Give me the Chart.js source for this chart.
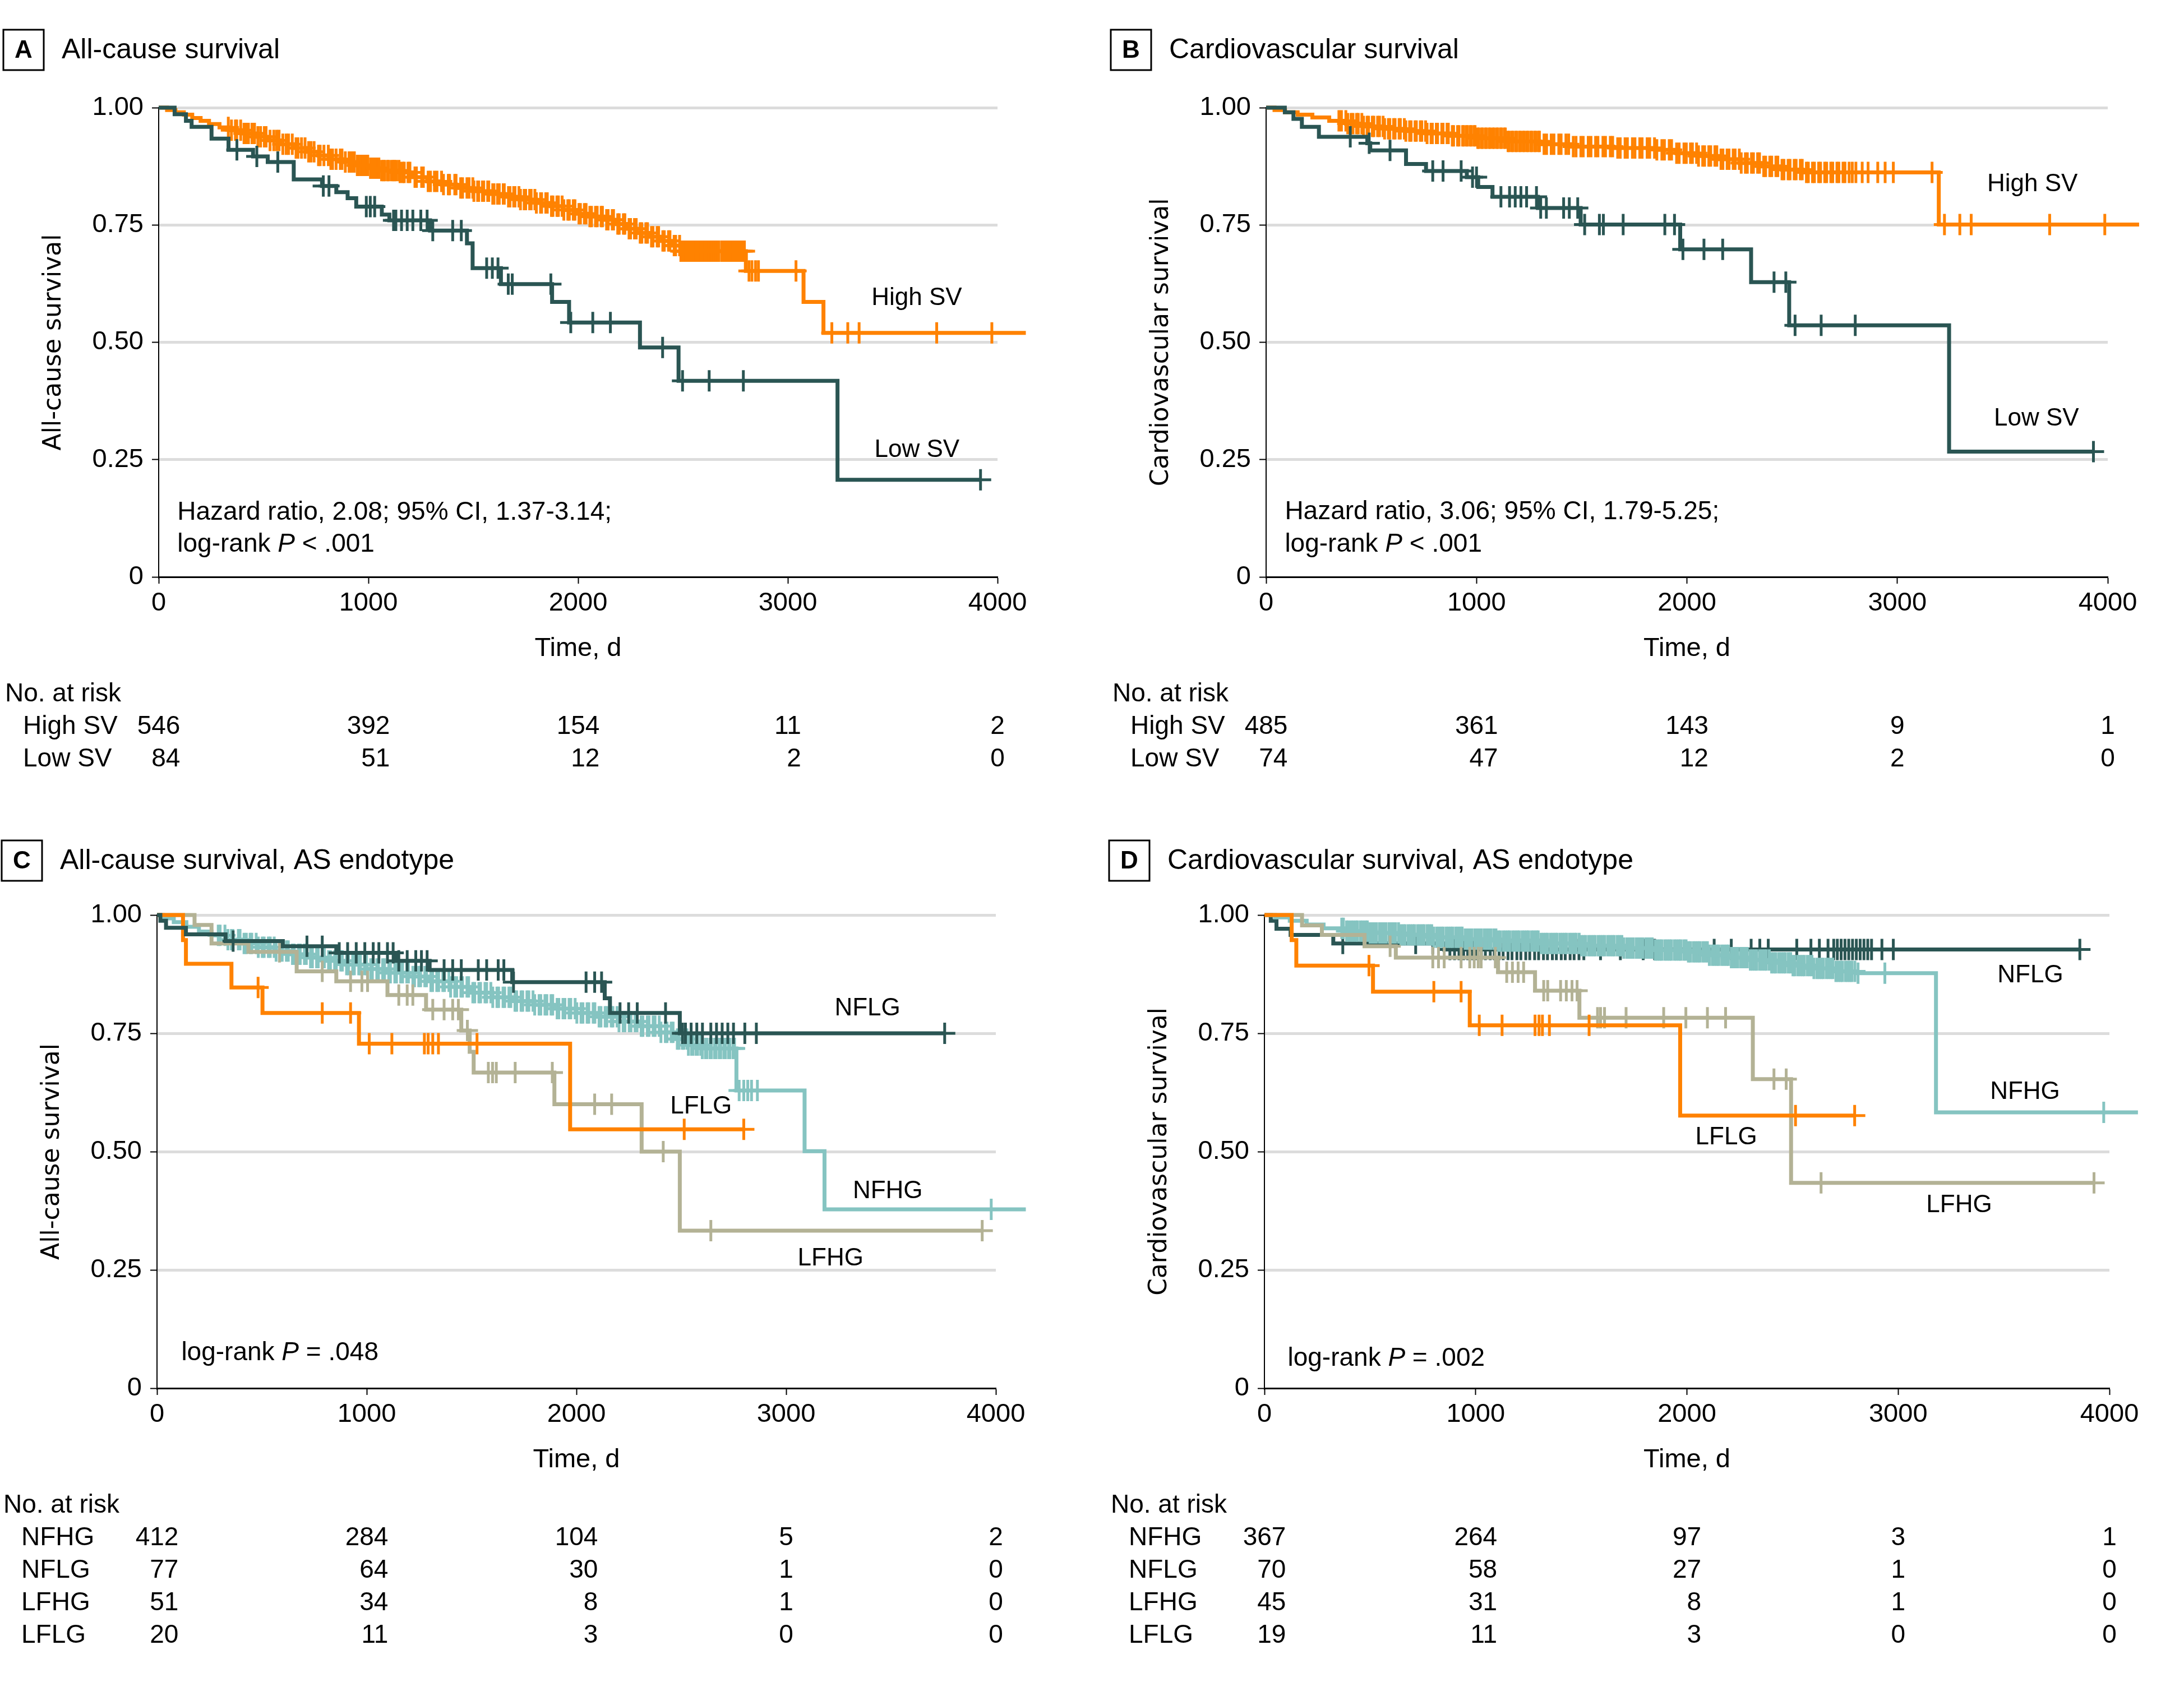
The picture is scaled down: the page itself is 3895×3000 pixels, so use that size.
<!DOCTYPE html>
<html><head><meta charset="utf-8">
<script src="https://cdn.jsdelivr.net/npm/chart.js@4.4.1/dist/chart.umd.min.js"></script>
<style>
html,body{margin:0;padding:0;background:#fff;}
body{width:3895px;height:3000px;position:relative;overflow:hidden;}
canvas{position:absolute;}
</style></head><body>
<canvas id="pA" width="1947" height="1440" style="left:0px;top:0px;width:1947px;height:1440px"></canvas>
<canvas id="pB" width="1948" height="1440" style="left:1947px;top:0px;width:1948px;height:1440px"></canvas>
<canvas id="pC" width="1947" height="1560" style="left:0px;top:1440px;width:1947px;height:1560px"></canvas>
<canvas id="pD" width="1948" height="1560" style="left:1947px;top:1440px;width:1948px;height:1560px"></canvas>
<script>
// ---------- axis ticks ----------
const timeTicks = [0, 1000, 2000, 3000, 4000];
const survTicks = [0, 0.25, 0.5, 0.75, 1];
const survTickLabels = ['0', '0.25', '0.50', '0.75', '1.00'];
const riskTimes = [0, 1000, 2000, 3000, 4000];

// ---------- Panel A: all-cause survival ----------
const aHighSteps = [[0,1],[40,0.995],[80,0.99],[120,0.985],[160,0.978],[200,0.972],[240,0.965],[290,0.958],[340,0.952],[400,0.945],[460,0.938],[520,0.93],[580,0.922],[640,0.914],[700,0.906],[760,0.898],[820,0.89],[880,0.884],[940,0.877],[1000,0.871],[1060,0.866],[1150,0.862],[1210,0.852],[1280,0.843],[1350,0.836],[1420,0.829],[1500,0.822],[1580,0.816],[1650,0.81],[1720,0.804],[1800,0.797],[1870,0.79],[1930,0.782],[1990,0.774],[2050,0.768],[2120,0.761],[2180,0.752],[2230,0.742],[2280,0.733],[2340,0.725],[2400,0.716],[2450,0.706],[2490,0.694],[2800,0.652],[3075,0.586],[3170,0.52]];
const aHighCensor = [332,347,366,372,391,407,416,428,445,457,473,486,504,512,531,549,563,574,592,608,619,637,655,664,681,698,715,726,741,762,770,788,809,821,829,846,866,874,890,908,916,925,933,947,951,964,972,980,993,997,1010,1018,1023,1036,1045,1050,1063,1072,1078,1091,1096,1109,1118,1124,1133,1146,1151,1164,1171,1189,1198,1222,1229,1254,1262,1285,1296,1315,1327,1349,1358,1381,1387,1412,1418,1440,1449,1470,1480,1498,1503,1521,1526,1544,1550,1569,1574,1593,1599,1616,1624,1643,1648,1668,1675,1693,1699,1718,1725,1743,1750,1769,1776,1794,1801,1821,1826,1846,1853,1873,1880,1899,1906,1924,1932,1951,1958,1977,1985,2004,2011,2030,2038,2056,2064,2083,2091,2110,2116,2136,2143,2163,2169,2189,2196,2216,2223,2243,2250,2269,2277,2296,2304,2323,2331,2350,2357,2377,2384,2404,2411,2431,2438,2458,2465,2484,2490,2498,2507,2513,2522,2531,2540,2549,2552,2561,2570,2576,2585,2594,2603,2606,2615,2624,2633,2639,2648,2657,2666,2670,2684,2693,2702,2711,2720,2729,2738,2748,2759,2771,2782,2793,2815,2829,2846,2860,3039,3210,3286,3340,3710,3973,4135];
const aLowSteps = [[0,1],[76,0.986],[130,0.972],[157,0.959],[252,0.934],[333,0.91],[450,0.896],[520,0.884],[644,0.847],[779,0.833],[847,0.82],[901,0.807],[942,0.789],[1064,0.772],[1100,0.76],[1294,0.738],[1470,0.711],[1497,0.658],[1632,0.624],[1876,0.586],[1957,0.542],[2295,0.489],[2479,0.418],[3237,0.207]];
const aLowCensor = [373,468,568,785,812,990,1009,1030,1120,1131,1158,1185,1212,1250,1280,1307,1402,1443,1564,1591,1618,1667,1686,1870,1965,2070,2154,2403,2498,2625,2788,3919];
const aHighRisk = [546, 392, 154, 11, 2];
const aLowRisk = [84, 51, 12, 2, 0];

// ---------- Panel B: cardiovascular survival ----------
const bHighSteps = [[0,1],[40,0.995],[90,0.99],[150,0.985],[220,0.979],[300,0.972],[380,0.966],[460,0.96],[560,0.955],[660,0.95],[760,0.945],[880,0.94],[1000,0.935],[1150,0.928],[1300,0.922],[1450,0.917],[1650,0.914],[1850,0.91],[1950,0.903],[2050,0.897],[2150,0.89],[2250,0.882],[2350,0.875],[2450,0.868],[2550,0.862],[3197,0.751]];
const bHighCensor = [346,358,379,388,404,413,430,438,455,463,480,487,505,512,530,539,556,563,581,588,606,613,632,638,657,664,682,689,708,714,733,740,758,765,784,790,809,815,835,841,860,866,885,891,910,917,934,939,952,957,970,975,988,993,1006,1011,1024,1029,1042,1047,1060,1065,1078,1083,1096,1101,1114,1119,1132,1137,1150,1155,1168,1173,1186,1191,1204,1209,1222,1227,1240,1245,1258,1263,1276,1281,1294,1299,1321,1333,1355,1368,1391,1402,1425,1438,1460,1473,1496,1507,1531,1544,1566,1577,1601,1613,1636,1647,1671,1683,1706,1717,1741,1753,1776,1787,1811,1823,1846,1857,1881,1893,1916,1927,1951,1963,1986,1997,2017,2026,2046,2055,2075,2084,2104,2113,2133,2142,2162,2171,2191,2200,2220,2229,2249,2258,2278,2287,2307,2316,2336,2345,2365,2374,2394,2403,2423,2432,2452,2461,2481,2490,2510,2519,2539,2548,2568,2577,2597,2606,2626,2635,2655,2664,2684,2693,2713,2722,2742,2751,2771,2786,2803,2833,2861,2907,2942,2981,3165,3224,3297,3351,3724,3986,4149];
const bLowSteps = [[0,1],[89,0.99],[130,0.976],[170,0.959],[251,0.938],[481,0.924],[495,0.909],[665,0.88],[760,0.865],[954,0.852],[1008,0.831],[1076,0.81],[1292,0.786],[1495,0.751],[1968,0.698],[2305,0.628],[2486,0.536],[3246,0.267]];
const bLowCensor = [400,490,589,792,841,927,981,1000,1116,1157,1184,1211,1238,1285,1305,1332,1414,1441,1481,1514,1584,1603,1697,1895,1941,1981,2081,2170,2414,2470,2514,2638,2800,3932];
const bHighRisk = [485, 361, 143, 9, 1];
const bLowRisk = [74, 47, 12, 2, 0];

// ---------- Panel C: all-cause survival, AS endotype ----------
const cNfhgSteps = [[0,1],[30,0.993],[80,0.985],[140,0.975],[200,0.965],[260,0.957],[330,0.948],[400,0.94],[480,0.932],[560,0.924],[640,0.917],[720,0.91],[800,0.903],[900,0.895],[1000,0.886],[1100,0.878],[1200,0.87],[1300,0.86],[1400,0.848],[1500,0.836],[1600,0.826],[1700,0.818],[1800,0.81],[1900,0.802],[2000,0.793],[2100,0.785],[2200,0.775],[2300,0.765],[2400,0.752],[2470,0.738],[2530,0.725],[2600,0.718],[2763,0.629],[3088,0.501],[3183,0.378]];
const cNfhgCensor = [292,301,324,338,355,362,388,396,415,426,444,452,473,483,502,511,531,540,559,568,589,597,617,626,646,654,675,683,703,712,732,741,761,769,790,798,818,827,847,855,876,884,904,913,933,941,962,970,990,999,1019,1027,1048,1056,1076,1085,1105,1113,1134,1142,1162,1171,1191,1199,1220,1228,1248,1257,1277,1285,1306,1314,1334,1343,1363,1371,1392,1400,1420,1429,1449,1457,1478,1486,1506,1515,1535,1543,1564,1572,1592,1601,1621,1629,1650,1658,1678,1687,1707,1715,1736,1744,1764,1773,1793,1801,1822,1830,1850,1859,1879,1887,1908,1916,1936,1945,1965,1973,1994,2002,2022,2031,2051,2059,2080,2088,2108,2117,2137,2145,2166,2174,2194,2203,2223,2231,2252,2260,2280,2289,2309,2317,2338,2346,2366,2375,2395,2403,2424,2432,2452,2461,2481,2489,2505,2512,2527,2534,2549,2556,2571,2578,2593,2600,2615,2622,2637,2644,2659,2666,2681,2688,2703,2710,2725,2732,2747,2754,2776,2798,2817,2835,2863,3978,4143];
const cNflgSteps = [[0,1],[16,0.988],[43,0.973],[138,0.959],[327,0.945],[600,0.934],[855,0.92],[1140,0.903],[1300,0.884],[1694,0.858],[2135,0.824],[2160,0.793],[2493,0.75]];
const cNflgCensor = [363,715,788,869,909,950,991,1031,1058,1099,1126,1153,1193,1234,1261,1288,1369,1410,1451,1532,1572,1627,1654,1700,2046,2087,2120,2208,2249,2290,2425,2506,2520,2547,2574,2601,2641,2668,2695,2722,2749,2803,2858,3756];
const cLfhgSteps = [[0,1],[179,0.979],[260,0.94],[436,0.922],[666,0.881],[855,0.86],[1099,0.831],[1283,0.8],[1451,0.756],[1491,0.711],[1510,0.667],[1895,0.6],[2311,0.5],[2493,0.333]];
const cLfhgCensor = [584,788,923,977,1004,1153,1193,1220,1315,1369,1410,1437,1480,1580,1600,1618,1708,1885,1970,2087,2168,2414,2641,3935];
const cLflgSteps = [[0,1],[124,0.947],[138,0.897],[355,0.847],[503,0.793],[963,0.728],[1970,0.547]];
const cLflgCensor = [482,788,923,1012,1120,1275,1293,1315,1342,1526,2514,2798];
const cNfhgRisk = [412, 284, 104, 5, 2];
const cNflgRisk = [77, 64, 30, 1, 0];
const cLfhgRisk = [51, 34, 8, 1, 0];
const cLflgRisk = [20, 11, 3, 0, 0];

// ---------- Panel D: cardiovascular survival, AS endotype ----------
const dNfhgSteps = [[0,1],[50,0.995],[120,0.988],[200,0.98],[280,0.972],[380,0.966],[500,0.962],[640,0.958],[800,0.953],[950,0.949],[1100,0.945],[1300,0.94],[1500,0.935],[1700,0.93],[1850,0.926],[2000,0.922],[2100,0.915],[2200,0.91],[2300,0.905],[2400,0.899],[2500,0.893],[2600,0.887],[2700,0.881],[2800,0.877],[3179,0.583]];
const dNfhgCensor = [366,374,389,397,410,421,433,441,455,466,478,487,500,511,522,531,545,556,567,576,590,601,612,621,635,646,657,666,680,691,702,711,725,736,747,756,770,781,792,801,815,826,837,846,860,871,882,891,905,916,927,936,950,961,972,981,995,1006,1017,1026,1040,1051,1062,1071,1085,1096,1107,1116,1130,1141,1152,1161,1175,1186,1197,1206,1220,1231,1242,1251,1265,1276,1287,1296,1310,1321,1332,1341,1355,1366,1377,1386,1400,1411,1422,1431,1445,1456,1467,1476,1490,1501,1512,1521,1535,1546,1557,1566,1580,1591,1602,1611,1625,1636,1647,1656,1670,1681,1692,1701,1715,1726,1737,1746,1760,1771,1782,1791,1805,1816,1827,1836,1850,1861,1872,1881,1895,1906,1917,1926,1940,1951,1962,1971,1985,1996,2007,2016,2030,2041,2052,2061,2075,2086,2097,2106,2120,2131,2142,2151,2165,2176,2187,2196,2210,2221,2232,2241,2255,2266,2277,2286,2300,2311,2322,2331,2345,2356,2367,2376,2390,2401,2412,2421,2435,2446,2457,2466,2480,2491,2502,2511,2525,2536,2547,2556,2570,2581,2592,2601,2615,2626,2637,2646,2660,2671,2682,2691,2705,2716,2727,2736,2750,2761,2772,2781,2795,2810,2937,3973,4135];
const dNflgSteps = [[0,1],[30,0.988],[57,0.971],[124,0.958],[326,0.94],[851,0.927]];
const dNflgCensor = [371,716,797,878,900,921,943,962,985,1004,1027,1046,1069,1088,1111,1130,1153,1172,1195,1214,1237,1256,1279,1298,1321,1340,1363,1382,1405,1424,1447,1466,1489,1512,1591,1685,1793,1847,2129,2210,2304,2345,2385,2520,2587,2627,2668,2695,2712,2730,2748,2766,2784,2802,2820,2838,2856,2874,2923,2977,3860];
const dLfhgSteps = [[0,1],[178,0.978],[272,0.958],[474,0.934],[622,0.91],[1106,0.879],[1281,0.84],[1491,0.783],[2312,0.653],[2493,0.434]];
const dLfhgCensor = [595,797,824,851,931,972,993,1012,1026,1093,1147,1174,1201,1227,1322,1341,1402,1429,1456,1480,1577,1591,1610,1712,1890,1995,2097,2183,2412,2470,2635,3927];
const dLflgSteps = [[0,1],[129,0.947],[151,0.893],[514,0.838],[972,0.767],[1968,0.576]];
const dLflgCensor = [495,802,931,1017,1125,1281,1300,1316,1349,1537,2514,2794];
const dNfhgRisk = [367, 264, 97, 3, 1];
const dNflgRisk = [70, 58, 27, 1, 0];
const dLfhgRisk = [45, 31, 8, 1, 0];
const dLflgRisk = [19, 11, 3, 0, 0];

// ---------- styles ----------
const COL = {orange:'#FF8200', dark:'#2A5553', light:'#85C4C1', khaki:'#B3B295'};
const FONT = '"Liberation Sans", Arial, sans-serif';
Chart.defaults.font.family = FONT;
Chart.defaults.color = '#000';

function survAt(steps, t) {
  let s = steps[0][1];
  for (const [tt, v] of steps) { if (tt <= t) s = v; else break; }
  return s;
}

function curveDatasets(s) {
  const last = s.steps[s.steps.length - 1];
  const endT = Math.max(last[0], s.censor[s.censor.length - 1]);
  const line = s.steps.map(([x, y]) => ({x, y}));
  line.push({x: endT, y: last[1]});
  return [
    {type:'line', data: line, stepped:'before', borderColor:s.color, borderWidth:7, pointRadius:0, fill:false, clip:false, order:s.order, borderJoinStyle:'miter'},
    {type:'line', data: s.censor.map(t => ({x:t, y:survAt(s.steps, t)})), showLine:false, pointStyle:'cross', pointRadius:19, pointHoverRadius:19, pointBorderColor:s.color, pointBackgroundColor:s.color, pointBorderWidth:5, clip:false, order:s.order}
  ];
}

function drawRich(ctx, parts, x, y, size) {
  let cx = x;
  for (const [txt, it] of parts) {
    ctx.font = (it ? 'italic ' : '') + size + 'px ' + FONT;
    ctx.fillText(txt, cx, y);
    cx += ctx.measureText(txt).width;
  }
}

const textPlugin = {
  id: 'panelText',
  afterDraw(chart, args, opts) {
    const p = opts.panel;
    const {ctx, chartArea} = chart;
    const xs = chart.scales.x, ys = chart.scales.y;
    const L = chartArea.left, B = chartArea.bottom;
    ctx.save();
    ctx.fillStyle = '#000';
    ctx.strokeStyle = '#000';
    // panel letter box and title
    ctx.lineWidth = 3;
    ctx.strokeRect(L - 277, p.boxTop, 72, 72);
    ctx.textAlign = 'center'; ctx.textBaseline = 'middle';
    ctx.font = 'bold 44px ' + FONT;
    ctx.fillText(p.letter, L - 277 + 36, p.boxTop + 38);
    ctx.textAlign = 'left';
    ctx.font = '50px ' + FONT;
    ctx.fillText(p.title, L - 173, p.boxTop + 37);
    // curve labels
    ctx.font = '44px ' + FONT;
    for (const l of p.labels) ctx.fillText(l.text, xs.getPixelForValue(l.t), ys.getPixelForValue(l.s));
    // statistics annotation
    for (const a of p.notes) drawRich(ctx, a.parts, xs.getPixelForValue(a.t), ys.getPixelForValue(a.s), 46);
    // number at risk table
    ctx.font = '46px ' + FONT;
    ctx.textAlign = 'left';
    ctx.fillText('No. at risk', L - 274, B + 209);
    const rows = p.table;
    rows.forEach((r, i) => ctx.fillText(r.name, L - 242, B + 267 + 58 * i));
    ctx.textAlign = 'right';
    riskTimes.forEach((t, j) => {
      const maxW = Math.max(...rows.map(r => ctx.measureText(String(r.risk[j])).width));
      const right = xs.getPixelForValue(t) + maxW / 2;
      rows.forEach((r, i) => ctx.fillText(String(r.risk[j]), right, B + 267 + 58 * i));
    });
    ctx.restore();
  }
};

const hrA = [['Hazard ratio, 2.08; 95% CI, 1.37-3.14;', false]];
const hrB = [['Hazard ratio, 3.06; 95% CI, 1.79-5.25;', false]];
const lrAB = [['log-rank ', false], ['P', true], [' < .001', false]];
const lrC = [['log-rank ', false], ['P', true], [' = .048', false]];
const lrD = [['log-rank ', false], ['P', true], [' = .002', false]];

const panels = [
  {id:'pA', letter:'A', title:'All-cause survival', yTitle:'All-cause survival', L:283, R:1779, T:192, B:1029, boxTop:53,
   series:[{steps:aHighSteps, censor:aHighCensor, color:COL.orange, order:2},
           {steps:aLowSteps, censor:aLowCensor, color:COL.dark, order:1}],
   labels:[{text:'High SV', t:3399, s:0.594}, {text:'Low SV', t:3413, s:0.27}],
   notes:[{parts:hrA, t:89, s:0.137}, {parts:lrAB, t:89, s:0.069}],
   table:[{name:'High SV', risk:aHighRisk}, {name:'Low SV', risk:aLowRisk}]},
  {id:'pB', letter:'B', title:'Cardiovascular survival', yTitle:'Cardiovascular survival', L:311, R:1812, T:192, B:1029, boxTop:53,
   series:[{steps:bHighSteps, censor:bHighCensor, color:COL.orange, order:2},
           {steps:bLowSteps, censor:bLowCensor, color:COL.dark, order:1}],
   labels:[{text:'High SV', t:3427, s:0.836}, {text:'Low SV', t:3459, s:0.337}],
   notes:[{parts:hrB, t:89, s:0.138}, {parts:lrAB, t:89, s:0.069}],
   table:[{name:'High SV', risk:bHighRisk}, {name:'Low SV', risk:bLowRisk}]},
  {id:'pC', letter:'C', title:'All-cause survival, AS endotype', yTitle:'All-cause survival', L:280, R:1776, T:192, B:1036, boxTop:59,
   series:[{steps:cNfhgSteps, censor:cNfhgCensor, color:COL.light, order:4},
           {steps:cLfhgSteps, censor:cLfhgCensor, color:COL.khaki, order:3},
           {steps:cLflgSteps, censor:cLflgCensor, color:COL.orange, order:2},
           {steps:cNflgSteps, censor:cNflgCensor, color:COL.dark, order:1}],
   labels:[{text:'NFLG', t:3231, s:0.802}, {text:'LFLG', t:2447, s:0.595}, {text:'NFHG', t:3318, s:0.416}, {text:'LFHG', t:3055, s:0.274}],
   notes:[{parts:lrC, t:116, s:0.074}],
   table:[{name:'NFHG', risk:cNfhgRisk}, {name:'NFLG', risk:cNflgRisk}, {name:'LFHG', risk:cLfhgRisk}, {name:'LFLG', risk:cLflgRisk}]},
  {id:'pD', letter:'D', title:'Cardiovascular survival, AS endotype', yTitle:'Cardiovascular survival', L:308, R:1815, T:192, B:1036, boxTop:59,
   series:[{steps:dNflgSteps, censor:dNflgCensor, color:COL.dark, order:4},
           {steps:dNfhgSteps, censor:dNfhgCensor, color:COL.light, order:3},
           {steps:dLfhgSteps, censor:dLfhgCensor, color:COL.khaki, order:2},
           {steps:dLflgSteps, censor:dLflgCensor, color:COL.orange, order:1}],
   labels:[{text:'NFLG', t:3470, s:0.872}, {text:'NFHG', t:3435, s:0.626}, {text:'LFLG', t:2040, s:0.53}, {text:'LFHG', t:3133, s:0.386}],
   notes:[{parts:lrD, t:110, s:0.063}],
   table:[{name:'NFHG', risk:dNfhgRisk}, {name:'NFLG', risk:dNflgRisk}, {name:'LFHG', risk:dLfhgRisk}, {name:'LFLG', risk:dLflgRisk}]}
];

function makePanel(p) {
  const canvas = document.getElementById(p.id);
  const W = canvas.width, H = canvas.height;
  const yW = 230, xH = 160;
  const datasets = [];
  p.series.forEach(s => datasets.push(...curveDatasets(s)));
  new Chart(canvas, {
    type: 'line',
    data: {datasets},
    options: {
      responsive: false, animation: false, devicePixelRatio: 1, events: [],
      layout: {padding: {left: p.L - yW, top: p.T, right: W - p.R, bottom: H - p.B - xH}},
      plugins: {legend: {display: false}, tooltip: {enabled: false}, panelText: {panel: p}},
      scales: {
        x: {
          type: 'linear', min: 0, max: 4000,
          afterFit: s => { s.height = xH; },
          afterBuildTicks: s => { s.ticks = timeTicks.map(v => ({value: v})); },
          ticks: {color: '#000', font: {size: 47}, padding: 7, maxRotation: 0, autoSkip: false, callback: v => String(v)},
          grid: {drawOnChartArea: false, drawTicks: true, tickLength: 12, tickColor: '#000', tickWidth: 2},
          border: {display: true, color: '#000', width: 3},
          title: {display: true, text: 'Time, d', color: '#000', font: {size: 47, lineHeight: 1}, padding: {top: 0, bottom: 8}}
        },
        y: {
          type: 'linear', min: 0, max: 1,
          afterFit: s => { s.width = yW; },
          afterBuildTicks: s => { s.ticks = survTicks.map(v => ({value: v})); },
          ticks: {color: '#000', font: {size: 47}, padding: 15, autoSkip: false, callback: (v, i) => survTickLabels[i]},
          grid: {color: c => (c.tick && c.tick.value === 0) ? 'rgba(0,0,0,0)' : '#dcdcdc', lineWidth: 5, drawTicks: true, tickLength: 12, tickColor: '#000', tickWidth: 2},
          border: {display: true, color: '#000', width: 2},
          title: {display: true, text: p.yTitle, color: '#000', font: {family: '"DejaVu Sans", sans-serif', size: 44, lineHeight: 1}, padding: {top: 22, bottom: 0}}
        }
      }
    },
    plugins: [textPlugin]
  });
}
panels.forEach(makePanel);
</script>
</body></html>
